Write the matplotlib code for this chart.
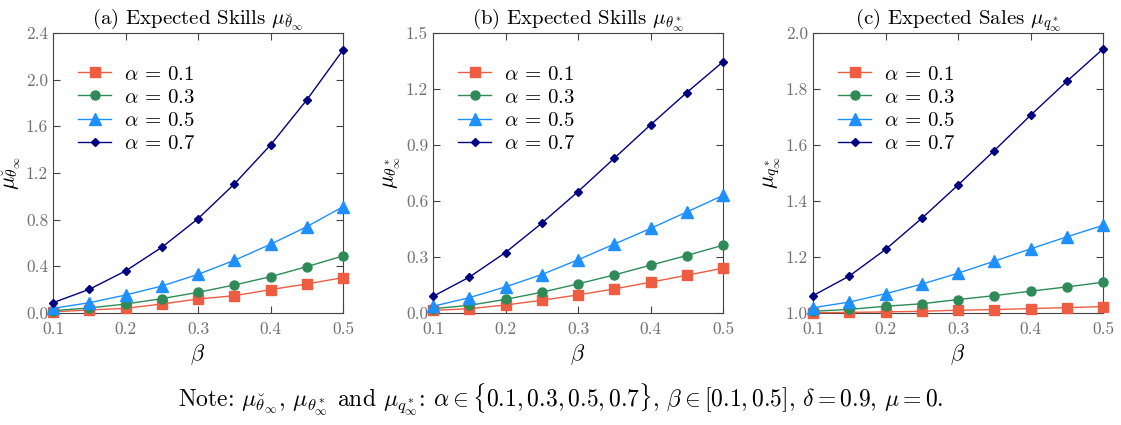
import matplotlib
matplotlib.use('Agg')
import matplotlib.pyplot as plt

plt.rcParams['font.family'] = 'cmr10'
plt.rcParams['mathtext.fontset'] = 'cm'
plt.rcParams['axes.unicode_minus'] = False
plt.rcParams['axes.formatter.use_mathtext'] = True

beta = [0.1, 0.15, 0.2, 0.25, 0.3, 0.35, 0.4, 0.45, 0.5]
alphas = ['0.1', '0.3', '0.5', '0.7']

# (a) expected skills, breve theta
skills_breve = {
    '0.1': [0.010, 0.026, 0.040, 0.077, 0.120, 0.148, 0.200, 0.249, 0.303],
    '0.3': [0.020, 0.043, 0.077, 0.123, 0.177, 0.240, 0.311, 0.397, 0.489],
    '0.5': [0.040, 0.088, 0.154, 0.231, 0.331, 0.451, 0.589, 0.740, 0.911],
    '0.7': [0.088, 0.203, 0.360, 0.563, 0.808, 1.105, 1.440, 1.826, 2.254],
}
# (b) expected skills, theta star
skills_star = {
    '0.1': [0.014, 0.023, 0.043, 0.068, 0.097, 0.129, 0.165, 0.202, 0.240],
    '0.3': [0.023, 0.041, 0.073, 0.111, 0.156, 0.204, 0.256, 0.308, 0.363],
    '0.5': [0.036, 0.082, 0.140, 0.206, 0.285, 0.369, 0.453, 0.541, 0.630],
    '0.7': [0.089, 0.192, 0.324, 0.481, 0.650, 0.829, 1.008, 1.181, 1.346],
}
# (c) expected sales, q star
sales_star = {
    '0.1': [1.001, 1.002, 1.004, 1.006, 1.010, 1.012, 1.016, 1.019, 1.023],
    '0.3': [1.006, 1.013, 1.024, 1.033, 1.048, 1.062, 1.078, 1.093, 1.110],
    '0.5': [1.019, 1.039, 1.069, 1.103, 1.142, 1.185, 1.229, 1.272, 1.313],
    '0.7': [1.062, 1.132, 1.227, 1.338, 1.457, 1.580, 1.706, 1.827, 1.943],
}

styles = {
    '0.1': dict(color='#EE5C42', marker='s', ms=6.5),
    '0.3': dict(color='#2E8B57', marker='o', ms=6.5),
    '0.5': dict(color='#1E90FF', marker='^', ms=8),
    '0.7': dict(color='#000080', marker='D', ms=4.5),
}

panels = [
    (skills_breve, r'(a) Expected Skills $\mu_{\breve{\theta}_\infty}$',
     r'$\mu_{\breve{\theta}_\infty}$', (0, 2.4), [0.0, 0.4, 0.8, 1.2, 1.6, 2.0, 2.4]),
    (skills_star, r'(b) Expected Skills $\mu_{\theta^*_\infty}$',
     r'$\mu_{\theta^*_\infty}$', (0, 1.5), [0.0, 0.3, 0.6, 0.9, 1.2, 1.5]),
    (sales_star, r'(c) Expected Sales $\mu_{q^*_\infty}$',
     r'$\mu_{q^*_\infty}$', (1.0, 2.0), [1.0, 1.2, 1.4, 1.6, 1.8, 2.0]),
]

fig = plt.figure(figsize=(11.21, 4.25), dpi=100)
lefts = [53, 433, 813]
for left, (data, title, ylab, ylim, yticks) in zip(lefts, panels):
    ax = fig.add_axes([left / 1121, 112 / 425, 290 / 1121, 280 / 425])
    for a in alphas:
        ax.plot(beta, data[a], lw=1, label=r'$\alpha$ = ' + a, clip_on=False,
                zorder=3, **styles[a])
    ax.set_xlim(0.1, 0.5)
    ax.set_ylim(*ylim)
    ax.set_xticks([0.1, 0.2, 0.3, 0.4, 0.5])
    ax.set_xticklabels(['0.1', '0.2', '0.3', '0.4', '0.5'])
    ax.set_yticks(yticks)
    ax.set_yticklabels(['%.1f' % t for t in yticks])
    ax.tick_params(direction='in', top=True, right=True, length=5,
                   labelsize=12.5, labelcolor='#707070', color='#444444')
    ax.tick_params(axis='x', pad=6)
    for sp in ax.spines.values():
        sp.set_color('#444444')
    ax.set_title(title, fontsize=15, pad=6)
    ax.set_xlabel(r'$\beta$', fontsize=16, labelpad=4)
    ax.set_ylabel(ylab, fontsize=16, labelpad=2)
    ax.legend(loc='upper left', bbox_to_anchor=(0.0, 0.975), frameon=False,
              fontsize=15, handlelength=1.6, handletextpad=0.6,
              labelspacing=0.22, borderaxespad=0.8)

fig.text(0.5, 0.06,
         r'Note: $\mu_{\breve{\theta}_\infty}$, $\mu_{\theta^*_\infty}$ and $\mu_{q^*_\infty}$: '
         r'$\alpha \in \{0.1, 0.3, 0.5, 0.7\}$, $\beta \in [0.1, 0.5]$, '
         r'$\delta = 0.9$, $\mu = 0$.',
         ha='center', va='center', fontsize=17)

fig.savefig('out.png', dpi=100)
